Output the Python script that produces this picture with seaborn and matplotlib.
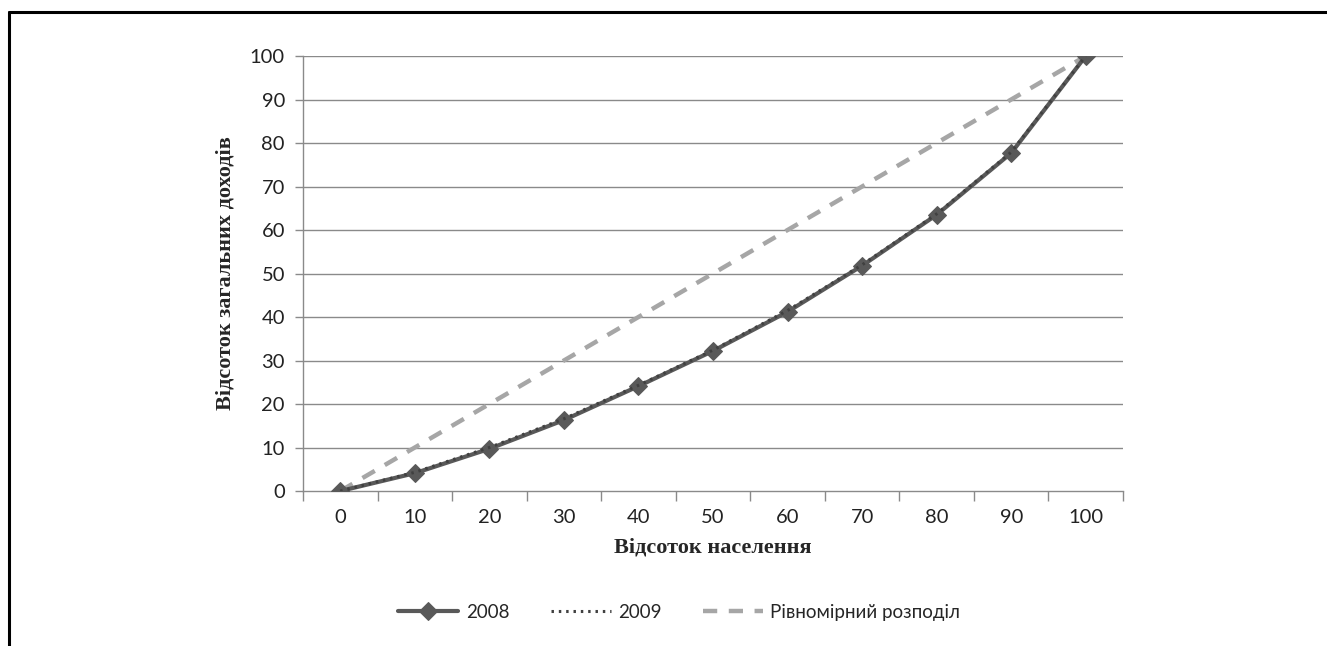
import matplotlib
matplotlib.use("Agg")
import matplotlib.pyplot as plt
from matplotlib.lines import Line2D
from matplotlib.ticker import FixedLocator, NullFormatter
import seaborn as sns
import pandas as pd

population = [0, 10, 20, 30, 40, 50, 60, 70, 80, 90, 100]
income_2008 = [0, 4.1, 9.7, 16.3, 24.1, 32.2, 41.2, 51.8, 63.5, 77.7, 100]
income_2009 = [0, 4.3, 10.0, 16.6, 24.3, 32.4, 41.5, 52.0, 63.7, 77.9, 100]
income_uniform = [0, 10, 20, 30, 40, 50, 60, 70, 80, 90, 100]
series_names = ["2008", "2009", "Рівномірний розподіл"]
y_ticks = [0, 10, 20, 30, 40, 50, 60, 70, 80, 90, 100]

sns.set_style("white")
plt.rcParams["font.family"] = ["Lato", "DejaVu Sans"]

fig = plt.figure(figsize=(13.27, 6.46), dpi=100)
ax = fig.add_axes([0.2283, 0.2399, 0.618, 0.6734])

df = pd.DataFrame({"x": population, "a": income_2008, "b": income_2009, "u": income_uniform})

grid_c = "#8a8a8a"
for y in y_ticks[1:]:
    ax.axhline(y, color=grid_c, lw=1.0, zorder=0)

sns.lineplot(data=df, x="x", y="u", ax=ax, color="#a6a6a6", lw=3.2,
             linestyle=(0, (3.2, 2.6)), label=series_names[2], zorder=2)
sns.lineplot(data=df, x="x", y="a", ax=ax, color="#595959", lw=3.0,
             marker="D", markersize=9.5, markeredgecolor="#595959",
             markerfacecolor="#595959", label=series_names[0], zorder=3)
sns.lineplot(data=df, x="x", y="b", ax=ax, color="#404040", lw=2.2,
             linestyle=(0, (0.8, 1.6)), label=series_names[1], zorder=4)

ax.set_xlim(-5, 105)
ax.set_ylim(0, 100)
ax.set_xticks(population)
ax.set_xticklabels([str(v) for v in population])
ax.xaxis.set_minor_locator(FixedLocator([-5 + 10 * i for i in range(12)]))
ax.xaxis.set_minor_formatter(NullFormatter())
ax.set_yticks(y_ticks)
ax.set_yticklabels([str(v) for v in y_ticks])
ax.tick_params(axis="x", which="major", length=0, pad=13, labelsize=14.5, labelcolor="#222222")
ax.tick_params(axis="x", which="minor", length=7, width=1, color=grid_c, direction="out", bottom=True)
ax.tick_params(axis="y", which="major", length=6, width=1, color=grid_c, direction="out", left=True,
               pad=7, labelsize=14.5, labelcolor="#222222")

for s in ["top", "right"]:
    ax.spines[s].set_visible(False)
for s in ["left", "bottom"]:
    ax.spines[s].set_color(grid_c)
    ax.spines[s].set_linewidth(1.0)

ax.set_xlabel("Відсоток населення", fontfamily="Liberation Serif", fontweight="bold",
              fontsize=16, labelpad=8)
ax.set_ylabel("Відсоток загальних доходів", fontfamily="Liberation Serif", fontweight="bold",
              fontsize=16, labelpad=10)

handles, labels = ax.get_legend_handles_labels()
order = [labels.index(n) for n in series_names]
ax.legend([handles[i] for i in order], [labels[i] for i in order], ncol=3, frameon=False,
          loc="center", bbox_to_anchor=(0.512, 0.0526), bbox_transform=fig.transFigure,
          fontsize=13.5, handlelength=3.2, columnspacing=2.2, handletextpad=0.4)

fig.add_artist(Line2D([9 / 1327, 9 / 1327], [0, 1 - 12 / 646], transform=fig.transFigure,
                      color="black", lw=2.2))
fig.add_artist(Line2D([9 / 1327, 1], [1 - 12 / 646, 1 - 12 / 646], transform=fig.transFigure,
                      color="black", lw=2.2))

fig.savefig("out.png", dpi=100)
